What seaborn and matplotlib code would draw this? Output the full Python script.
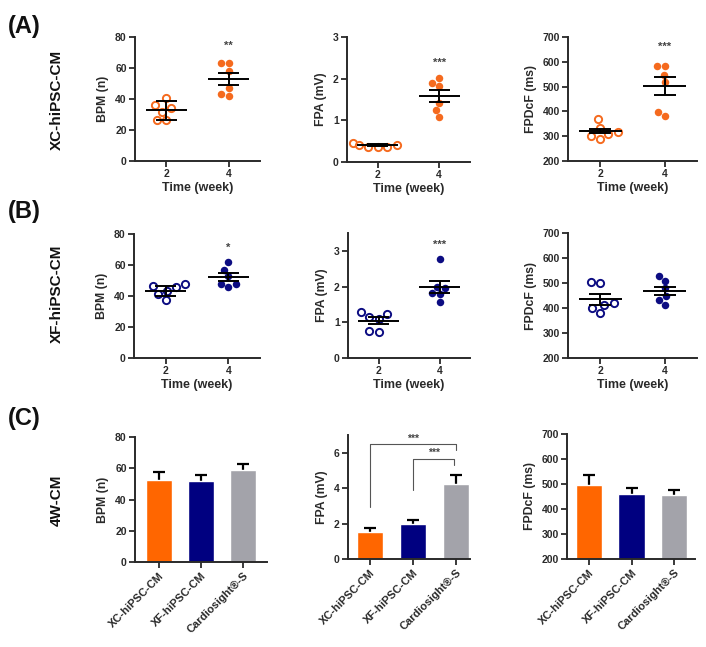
import numpy as np
import pandas as pd
import matplotlib
matplotlib.use("Agg")
import matplotlib.pyplot as plt
import seaborn as sns

sns.set_style("ticks")
plt.rcParams['font.family'] = ['Liberation Sans', 'DejaVu Sans']
plt.rcParams['font.weight'] = 'bold'

ORANGE = '#F56A1E'
NAVY = '#0C0C82'
BAR_COLORS = ['#FF6600', '#000080', '#A3A3AA']
DARK = '#2a2a2a'

weeks = ['2', '4']
groups = ['XC-hiPSC-CM', 'XF-hiPSC-CM', 'Cardiosight®-S']

# (A) XC-hiPSC-CM, individual values per week
xc_bpm_w2 = [40.9, 36.1, 34.4, 31.8, 26.5, 26.5]
xc_bpm_w4 = [63.4, 63.4, 58.3, 47.3, 43.2, 41.9]
xc_bpm_mean = [32.6, 52.9]
xc_bpm_sem = [5.9, 3.8]

xc_fpa_w2 = [0.45, 0.42, 0.40, 0.37, 0.36, 0.35]
xc_fpa_w4 = [2.01, 1.89, 1.83, 1.42, 1.25, 1.09]
xc_fpa_mean = [0.41, 1.58]
xc_fpa_sem = [0.02, 0.15]

xc_fpd_w2 = [368, 332, 318, 310, 301, 289]
xc_fpd_w4 = [584, 584, 547, 517, 396, 383]
xc_fpd_mean = [321, 503]
xc_fpd_sem = [9, 36]

# (B) XF-hiPSC-CM
xf_bpm_w2 = [48.0, 46.5, 46.0, 43.5, 41.5, 37.5]
xf_bpm_w4 = [62.0, 56.8, 53.0, 47.7, 47.7, 46.0]
xf_bpm_mean = [43.4, 52.5]
xf_bpm_sem = [3.2, 2.6]

xf_fpa_w2 = [1.28, 1.22, 1.15, 1.10, 0.76, 0.74]
xf_fpa_w4 = [2.78, 2.00, 1.96, 1.82, 1.80, 1.58]
xf_fpa_mean = [1.04, 2.00]
xf_fpa_sem = [0.10, 0.17]

xf_fpd_w2 = [503, 499, 419, 412, 399, 379]
xf_fpd_w4 = [528, 509, 479, 448, 432, 412]
xf_fpd_mean = [435, 468]
xf_fpd_sem = [21, 17]

# (C) 4-week comparison, mean and SEM
bpm_bar = [52.6, 52.1, 59.0]
bpm_err = [4.9, 3.3, 3.9]
fpa_bar = [1.52, 1.95, 4.22]
fpa_err = [0.22, 0.23, 0.53]
fpd_bar = [495, 460, 455]
fpd_err = [42, 24, 22]

W, H = 706, 647
fig = plt.figure(figsize=(W / 100, H / 100), dpi=100)


def add_ax(x0, y0, x1, y1):
    return fig.add_axes([x0 / W, 1 - y1 / H, (x1 - x0) / W, (y1 - y0) / H])


def style_ax(ax, ylabel):
    sns.despine(ax=ax)
    for s in ['left', 'bottom']:
        ax.spines[s].set_linewidth(1.4)
        ax.spines[s].set_color(DARK)
    ax.tick_params(direction='out', length=4, width=1.3, color=DARK,
                   labelsize=7.5, labelcolor=DARK, pad=2)
    for lab in ax.get_xticklabels() + ax.get_yticklabels():
        lab.set_fontweight('bold')
    ax.set_ylabel(ylabel, fontsize=8.8, fontweight='bold', color=DARK, labelpad=4)


def scatter_panel(ax, w2, w4, mean, sem, color, ylim, yticks, ylabel, stars, star_y):
    df = pd.DataFrame({'week': ['2'] * len(w2) + ['4'] * len(w4), 'val': w2 + w4})
    sns.swarmplot(data=df[df.week == '2'], x='week', y='val', order=weeks, ax=ax,
                  color='white', edgecolor=color, linewidth=1.4, size=5.2, zorder=2)
    sns.swarmplot(data=df[df.week == '4'], x='week', y='val', order=weeks, ax=ax,
                  color=color, linewidth=0, size=5.4, zorder=2)
    pos = np.arange(len(weeks))
    m = np.array(mean)
    e = np.array(sem)
    ax.hlines(m, pos - 0.33, pos + 0.33, color='black', lw=1.4, zorder=3)
    ax.vlines(pos, m - e, m + e, color='black', lw=1.4, zorder=3)
    ax.hlines(m - e, pos - 0.17, pos + 0.17, color='black', lw=1.4, zorder=3)
    ax.hlines(m + e, pos - 0.17, pos + 0.17, color='black', lw=1.4, zorder=3)
    ax.set_xlim(-0.5, 1.5)
    ax.set_ylim(*ylim)
    ax.set_yticks(yticks)
    ax.set_xlabel('Time (week)', fontsize=9, fontweight='bold', color=DARK, labelpad=2)
    style_ax(ax, ylabel)
    if stars:
        ax.text(1, star_y, stars, ha='center', va='center', fontsize=8, color='#444444')


def bar_panel(ax, vals, errs, ylim, yticks, ylabel, xlim):
    df = pd.DataFrame({'group': groups, 'val': vals})
    sns.barplot(data=df, x='group', y='val', hue='group', palette=BAR_COLORS,
                saturation=1, legend=False, width=0.62, ax=ax, zorder=2)
    pos = np.arange(len(groups))
    v = np.array(vals)
    e = np.array(errs)
    ax.vlines(pos, v, v + e, color='black', lw=1.6, zorder=1)
    ax.hlines(v + e, pos - 0.14, pos + 0.14, color='black', lw=1.6, zorder=1)
    ax.set_xlim(*xlim)
    ax.set_ylim(*ylim)
    ax.set_yticks(yticks)
    ax.set_xlabel('')
    style_ax(ax, ylabel)
    ax.set_xticks(pos)
    ax.set_xticklabels(groups, rotation=45, ha='right', rotation_mode='anchor',
                       fontsize=8, fontweight='bold', color=DARK)


# Row A
ax = add_ax(135, 37, 260, 161)
scatter_panel(ax, xc_bpm_w2, xc_bpm_w4, xc_bpm_mean, xc_bpm_sem, ORANGE,
              (0, 80), [0, 20, 40, 60, 80], 'BPM (n)', '**', 74)
ax = add_ax(347, 37, 470, 162)
scatter_panel(ax, xc_fpa_w2, xc_fpa_w4, xc_fpa_mean, xc_fpa_sem, ORANGE,
              (0, 3), [0, 1, 2, 3], 'FPA (mV)', '***', 2.38)
ax = add_ax(568, 37, 697, 161)
scatter_panel(ax, xc_fpd_w2, xc_fpd_w4, xc_fpd_mean, xc_fpd_sem, ORANGE,
              (200, 700), [200, 300, 400, 500, 600, 700], 'FPDcF (ms)', '***', 660)

# Row B
ax = add_ax(134, 234, 260, 358)
scatter_panel(ax, xf_bpm_w2, xf_bpm_w4, xf_bpm_mean, xf_bpm_sem, NAVY,
              (0, 80), [0, 20, 40, 60, 80], 'BPM (n)', '*', 71)
ax = add_ax(348, 233, 470, 358)
scatter_panel(ax, xf_fpa_w2, xf_fpa_w4, xf_fpa_mean, xf_fpa_sem, NAVY,
              (0, 3.5), [0, 1, 2, 3], 'FPA (mV)', '***', 3.17)
ax = add_ax(568, 233, 697, 358)
scatter_panel(ax, xf_fpd_w2, xf_fpd_w4, xf_fpd_mean, xf_fpd_sem, NAVY,
              (200, 700), [200, 300, 400, 500, 600, 700], 'FPDcF (ms)', None, 0)

# Row C
ax = add_ax(135, 437, 267, 562)
bar_panel(ax, bpm_bar, bpm_err, (0, 80), [0, 20, 40, 60, 80], 'BPM (n)', (-0.57, 2.57))
ax = add_ax(348, 435, 470, 559)
bar_panel(ax, fpa_bar, fpa_err, (0, 7), [0, 2, 4, 6], 'FPA (mV)', (-0.51, 2.33))
# significance brackets
ax.plot([0, 0, 2, 2], [2.96, 6.49, 6.49, 6.17], color='#555555', lw=0.8)
ax.text(1, 6.8, '***', ha='center', va='center', fontsize=7.5, color='#444444')
ax.plot([1, 1, 1.95, 1.95], [3.9, 5.64, 5.64, 5.32], color='#555555', lw=0.8)
ax.text(1.5, 6.02, '***', ha='center', va='center', fontsize=7.5, color='#444444')
ax = add_ax(567, 434, 695, 559)
bar_panel(ax, fpd_bar, fpd_err, (200, 700), [200, 300, 400, 500, 600, 700], 'FPDcF (ms)', (-0.52, 2.49))

# Panel letters and row labels
for lab, y in [('(A)', 26), ('(B)', 211), ('(C)', 419)]:
    fig.text(8 / W, 1 - y / H, lab, fontsize=17, fontweight='bold', va='center', ha='left', color='#111111')
for lab, y in [('XC-hiPSC-CM', 100), ('XF-hiPSC-CM', 294), ('4W-CM', 500)]:
    fig.text(57 / W, 1 - y / H, lab, fontsize=11, fontweight='bold', rotation=90,
             va='center', ha='center', color='#111111')

fig.savefig('out.png', dpi=100, facecolor='white')
